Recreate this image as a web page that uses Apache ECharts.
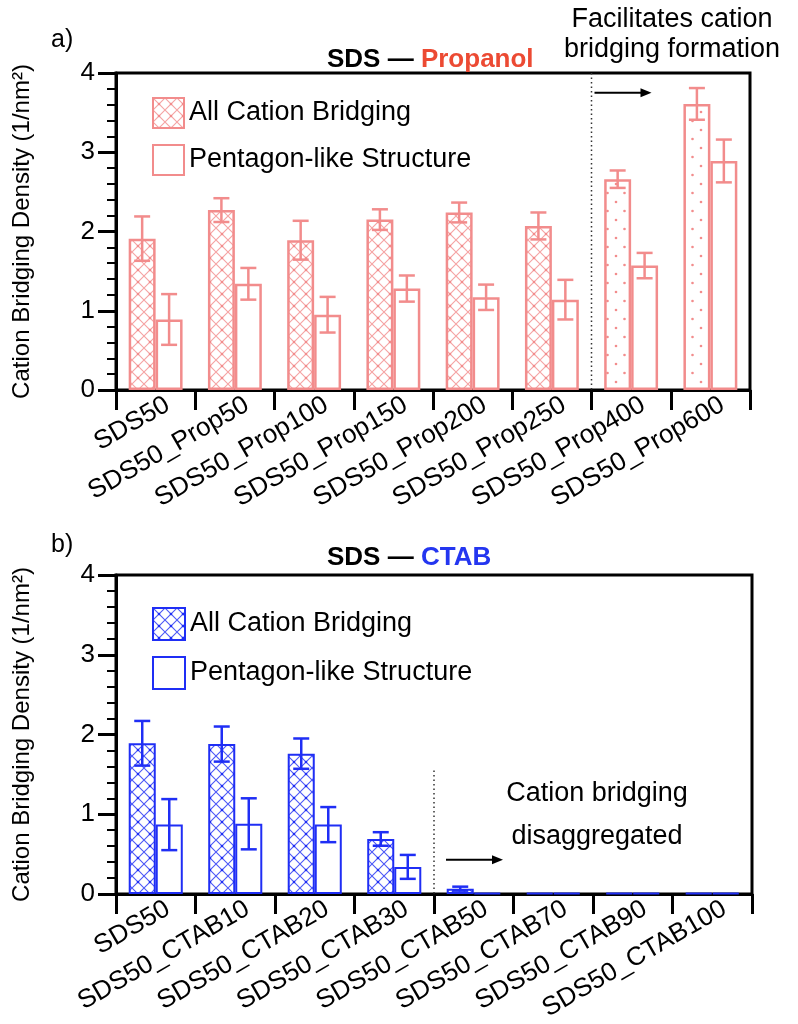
<!DOCTYPE html>
<html>
<head>
<meta charset="utf-8">
<script src="https://cdn.jsdelivr.net/npm/echarts@6/dist/echarts.min.js"></script>
<style>
html,body{margin:0;padding:0;background:#fff;}
#chart{width:798px;height:1024px;}
</style>
</head>
<body>
<div id="chart"></div>
<script>
// ---------------- data ----------------
const categoriesA = ['SDS50','SDS50_Prop50','SDS50_Prop100','SDS50_Prop150','SDS50_Prop200','SDS50_Prop250','SDS50_Prop400','SDS50_Prop600'];
const allBridgingA = [1.91, 2.27, 1.89, 2.15, 2.24, 2.07, 2.66, 3.61];
const allBridgingErrA = [0.28, 0.15, 0.245, 0.13, 0.125, 0.17, 0.11, 0.2];
const pentagonA = [0.89, 1.34, 0.95, 1.28, 1.17, 1.14, 1.57, 2.89];
const pentagonErrA = [0.32, 0.2, 0.225, 0.165, 0.16, 0.25, 0.16, 0.27];

const categoriesB = ['SDS50','SDS50_CTAB10','SDS50_CTAB20','SDS50_CTAB30','SDS50_CTAB50','SDS50_CTAB70','SDS50_CTAB90','SDS50_CTAB100'];
const allBridgingB = [1.89, 1.88, 1.76, 0.69, 0.067, 0.012, 0.012, 0.012];
const allBridgingErrB = [0.28, 0.22, 0.19, 0.085, 0.025, 0, 0, 0];
const pentagonB = [0.87, 0.88, 0.87, 0.34, 0.012, 0.012, 0.012, 0.012];
const pentagonErrB = [0.32, 0.32, 0.22, 0.15, 0, 0, 0, 0];

const yTicks = [0, 1, 2, 3, 4];
const legendNames = ['All Cation Bridging', 'Pentagon-like Structure'];
const yAxisTitle = 'Cation Bridging Density (1/nm²)';

// ---------------- styles ----------------
const FONT = '"Liberation Sans", Arial, Helvetica, sans-serif';
const PINK = '#F28C8C';
const BLUE = '#1F2EF5';
const CAT_GAP = 0.32;

function crossPattern(color) {
  const s = 12;
  const c = document.createElement('canvas');
  c.width = s; c.height = s;
  const g = c.getContext('2d');
  g.fillStyle = '#fff'; g.fillRect(0,0,s,s);
  g.strokeStyle = color; g.globalAlpha = 0.8; g.lineWidth = 1.1;
  g.beginPath();
  g.moveTo(0,0); g.lineTo(s,s);
  g.moveTo(s,0); g.lineTo(0,s);
  g.stroke();
  g.globalAlpha = 1; g.fillStyle = color;
  g.beginPath(); g.arc(s/2, s/2, 1.3, 0, Math.PI*2); g.fill();
  return {image: c, repeat: 'repeat'};
}
function dotPattern(color) {
  const c = document.createElement('canvas');
  c.width = 17; c.height = 18;
  const g = c.getContext('2d');
  g.fillStyle = '#fff'; g.fillRect(0,0,17,18);
  g.fillStyle = color;
  g.beginPath(); g.arc(4, 4, 1.3, 0, Math.PI*2); g.fill();
  g.beginPath(); g.arc(12.5, 13, 1.3, 0, Math.PI*2); g.fill();
  return {image: c, repeat: 'repeat'};
}

const crossA = crossPattern(PINK);
const dotsA = dotPattern(PINK);
const crossB = crossPattern(BLUE);

function errSeries(values, errs, gridIdx, sign, color) {
  return {
    type: 'custom',
    xAxisIndex: gridIdx, yAxisIndex: gridIdx,
    z: 10,
    silent: true,
    data: values.map((v, i) => [i, v, errs[i]]),
    renderItem: function (params, api) {
      const i = api.value(0), v = api.value(1), e = api.value(2);
      if (!e) return null;
      const catW = api.size([1, 0])[0];
      const bw = catW * (1 - CAT_GAP) / 2;
      const x = api.coord([i, v])[0] + sign * bw / 2;
      const yt = api.coord([i, v + e])[1];
      const yb = api.coord([i, v - e])[1];
      const hw = 8;
      const st = {stroke: color, lineWidth: 2.5};
      return {type: 'group', children: [
        {type: 'line', shape: {x1: x, y1: yt, x2: x, y2: yb}, style: st},
        {type: 'line', shape: {x1: x-hw, y1: yt, x2: x+hw, y2: yt}, style: st},
        {type: 'line', shape: {x1: x-hw, y1: yb, x2: x+hw, y2: yb}, style: st}
      ]};
    }
  };
}

function xAxisCfg(cats, gridIdx) {
  return {
    type: 'category', gridIndex: gridIdx, data: cats,
    axisLine: {lineStyle: {color: '#000', width: 3}},
    axisTick: {show: true, length: 20, inside: false, lineStyle: {width: 3, color: '#000'}},
    axisLabel: {rotate: 30, fontSize: 26, color: '#000', fontFamily: FONT, margin: 20, interval: 0, padding: [0, -14, 0, 0]},
    splitLine: {show: false}
  };
}
function yAxisCfg(gridIdx) {
  return {
    type: 'value', gridIndex: gridIdx, min: yTicks[0], max: yTicks[yTicks.length-1], interval: 1,
    name: yAxisTitle, nameLocation: 'middle', nameGap: 82,
    nameTextStyle: {fontSize: 24, color: '#000', fontFamily: FONT},
    axisLine: {show: true, lineStyle: {color: '#000', width: 3}},
    axisTick: {show: true, length: 18, lineStyle: {width: 3, color: '#000'}},
    minorTick: {show: true, splitNumber: 5, length: 9, lineStyle: {width: 2, color: '#000'}},
    axisLabel: {fontSize: 26, color: '#000', fontFamily: FONT, margin: 21},
    splitLine: {show: false}, minorSplitLine: {show: false}
  };
}

const chart = echarts.init(document.getElementById('chart'), null, {renderer: 'canvas'});

const option = {
  backgroundColor: '#fff',
  animation: false,
  textStyle: {fontFamily: FONT},
  title: [
    {text: '{a|SDS — }{b|Propanol}', left: 322, top: 42,
      textStyle: {rich: {a: {fontSize: 26, fontWeight: 'bold', color: '#000', fontFamily: FONT},
                         b: {fontSize: 26, fontWeight: 'bold', color: '#EC4A33', fontFamily: FONT}}}},
    {text: '{a|SDS — }{b|CTAB}', left: 322, top: 540,
      textStyle: {rich: {a: {fontSize: 26, fontWeight: 'bold', color: '#000', fontFamily: FONT},
                         b: {fontSize: 26, fontWeight: 'bold', color: '#2436F0', fontFamily: FONT}}}}
  ],
  legend: [
    {data: ['A_all', 'A_pent'], orient: 'vertical', left: 147, top: 92, itemWidth: 31, itemHeight: 30, itemGap: 15,
      formatter: n => n === 'A_all' ? legendNames[0] : legendNames[1],
      textStyle: {fontSize: 27, color: '#000', fontFamily: FONT}, icon: 'rect', selectedMode: false},
    {data: ['B_all', 'B_pent'], orient: 'vertical', left: 147, top: 602, itemWidth: 32, itemHeight: 32, itemGap: 15,
      formatter: n => n === 'B_all' ? legendNames[0] : legendNames[1],
      textStyle: {fontSize: 27, color: '#000', fontFamily: FONT}, icon: 'rect', selectedMode: false}
  ],
  grid: [
    {left: 116, top: 73, width: 634, height: 317, show: true, borderColor: '#000', borderWidth: 3, backgroundColor: 'transparent'},
    {left: 116, top: 575, width: 636, height: 319, show: true, borderColor: '#000', borderWidth: 3, backgroundColor: 'transparent'}
  ],
  xAxis: [xAxisCfg(categoriesA, 0), xAxisCfg(categoriesB, 1)],
  yAxis: [yAxisCfg(0), yAxisCfg(1)],
  series: [
    {name: 'A_all', type: 'bar', xAxisIndex: 0, yAxisIndex: 0, barGap: '0%', barCategoryGap: (CAT_GAP*100)+'%',
      itemStyle: {color: crossA, borderColor: PINK, borderWidth: 2.5},
      data: allBridgingA.map((v, i) => i >= 6 ? {value: v, itemStyle: {color: dotsA}} : v)},
    {name: 'A_pent', type: 'bar', xAxisIndex: 0, yAxisIndex: 0, barGap: '0%', barCategoryGap: (CAT_GAP*100)+'%',
      itemStyle: {color: '#fff', borderColor: PINK, borderWidth: 2.5},
      data: pentagonA},
    errSeries(allBridgingA, allBridgingErrA, 0, -1, PINK),
    errSeries(pentagonA, pentagonErrA, 0, 1, PINK),
    {name: 'B_all', type: 'bar', xAxisIndex: 1, yAxisIndex: 1, barGap: '0%', barCategoryGap: (CAT_GAP*100)+'%',
      itemStyle: {color: crossB, borderColor: BLUE, borderWidth: 2},
      data: allBridgingB},
    {name: 'B_pent', type: 'bar', xAxisIndex: 1, yAxisIndex: 1, barGap: '0%', barCategoryGap: (CAT_GAP*100)+'%',
      itemStyle: {color: '#fff', borderColor: BLUE, borderWidth: 2},
      data: pentagonB},
    errSeries(allBridgingB, allBridgingErrB, 1, -1, BLUE),
    errSeries(pentagonB, pentagonErrB, 1, 1, BLUE)
  ]
};
chart.setOption(option);

// annotations derived from axes
function boundaryX(axisIdx, a, b) {
  return (chart.convertToPixel({xAxisIndex: axisIdx}, a) + chart.convertToPixel({xAxisIndex: axisIdx}, b)) / 2;
}
const xA = boundaryX(0, 5, 6);
const yA0 = chart.convertToPixel({yAxisIndex: 0}, 0);
const yA4 = chart.convertToPixel({yAxisIndex: 0}, 4);
const yArrA = chart.convertToPixel({yAxisIndex: 0}, 3.75);
const xB = boundaryX(1, 3, 4);
const yB0 = chart.convertToPixel({yAxisIndex: 1}, 0);
const yBTop = chart.convertToPixel({yAxisIndex: 1}, 1.55);
const yArrB = chart.convertToPixel({yAxisIndex: 1}, 0.43);

function arrow(x1, y, len) {
  return [
    {type: 'line', shape: {x1: x1, y1: y, x2: x1 + len - 8, y2: y}, style: {stroke: '#000', lineWidth: 2}, z: 20},
    {type: 'polygon', shape: {points: [[x1+len, y], [x1+len-11, y-4.5], [x1+len-11, y+4.5]]}, style: {fill: '#000'}, z: 20}
  ];
}

chart.setOption({
  graphic: [
    {type: 'line', shape: {x1: xA, y1: yA4, x2: xA, y2: yA0}, style: {stroke: '#333', lineWidth: 1.5, lineDash: [1.5, 3]}, z: 20},
    ...arrow(xA + 3, yArrA, 57),
    {type: 'line', shape: {x1: xB, y1: yBTop, x2: xB, y2: yB0}, style: {stroke: '#333', lineWidth: 1.5, lineDash: [1.5, 3]}, z: 20},
    ...arrow(xB + 12, yArrB, 57),
    {type: 'text', x: 672, y: 5, z: 20,
      style: {text: 'Facilitates cation\nbridging formation', fontSize: 27, lineHeight: 30, fill: '#000', align: 'center', verticalAlign: 'top', fontFamily: FONT}},
    {type: 'text', x: 597, y: 772, z: 20,
      style: {text: 'Cation bridging\ndisaggregated', fontSize: 27, lineHeight: 43, fill: '#000', align: 'center', verticalAlign: 'top', fontFamily: FONT}},
    {type: 'text', x: 51, y: 28, style: {text: 'a)', fontSize: 25, fill: '#000', fontFamily: FONT}},
    {type: 'text', x: 51, y: 533, style: {text: 'b)', fontSize: 25, fill: '#000', fontFamily: FONT}}
  ]
});
</script>
</body>
</html>
